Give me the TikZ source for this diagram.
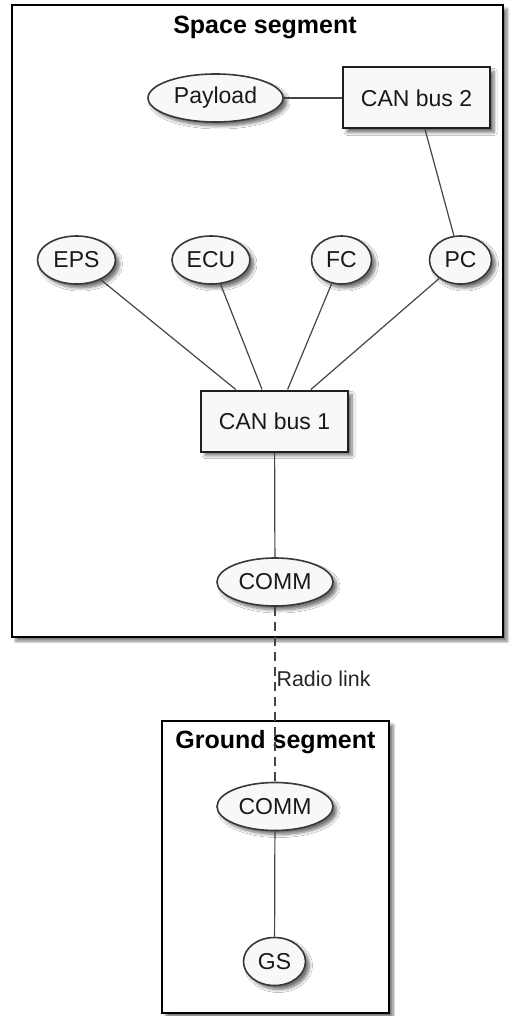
\documentclass[tikz,border=0pt]{standalone}
\usepackage{fontspec}
\setmainfont{Liberation Sans}
\usetikzlibrary{shapes.geometric,shadows.blur}
\definecolor{nodefill}{HTML}{F8F8F8}
\definecolor{nodeline}{HTML}{383838}
\definecolor{edgeline}{HTML}{454545}
\begin{document}
\begin{tikzpicture}[x=1pt,y=-1pt,
  shd/.style={blur shadow={shadow xshift=4pt,shadow yshift=-4pt,shadow opacity=55,shadow blur steps=6,shadow blur radius=3pt}},
  uc/.style={ellipse, draw=nodeline, line width=1.6pt, fill=nodefill, inner sep=0pt, minimum height=48pt, text=black!90, font=\fontsize{23}{27}\selectfont, shd},
  bx/.style={rectangle, draw=black!88, line width=2pt, fill=nodefill, inner sep=0pt, minimum width=147pt, minimum height=61pt, text=black!90, font=\fontsize{23}{27}\selectfont, shd},
  frm/.style={draw=black, line width=2pt, fill=white, shd},
  ttl/.style={font=\fontsize{25}{30}\selectfont\bfseries, inner sep=0pt},
  lnk/.style={draw=edgeline, line width=1.2pt},
  lbl/.style={font=\fontsize{21.4}{25}\selectfont, text=black!85, inner sep=1pt, anchor=west},
]
\useasboundingbox (0,0) rectangle (509,1016);
% frames
\draw[frm] (12,5) rectangle (503,637);
\draw[frm] (162,721) rectangle (389,1013);
\node[ttl] (spacettl) at (265,27) {Space segment};
\node[ttl] (groundttl) at (275.5,742) {Ground segment};
% space segment nodes
\node[uc, minimum width=135pt] (payload) at (215.5,98) {Payload};
\node[bx] (can2) at (416.5,98) {CAN bus 2};
\node[uc, minimum width=78pt] (eps) at (76.5,260) {EPS};
\node[uc, minimum width=78pt] (ecu) at (211,260) {ECU};
\node[uc, minimum width=60pt] (fc) at (341.5,260) {FC};
\node[uc, minimum width=62pt] (pc) at (460.5,260) {PC};
\node[bx] (can1) at (274.5,421) {CAN bus 1};
\node[uc, minimum width=116pt] (comm1) at (275,582) {COMM};
% ground segment nodes
\node[uc, minimum width=116pt] (comm2) at (275,806.5) {COMM};
\node[uc, minimum width=62pt] (gs) at (274.5,961.5) {GS};
% connectors
\draw[lnk] (payload) -- (can2);
\draw[lnk] (can2) -- (pc);
\draw[lnk] (eps) -- (can1);
\draw[lnk] (ecu) -- (can1);
\draw[lnk] (fc) -- (can1);
\draw[lnk] (pc) -- (can1);
\draw[lnk] (can1) -- (comm1);
\draw[lnk, dash pattern=on 9pt off 6pt] (comm1) -- node[lbl, pos=0.41] (radio) {Radio link} (comm2);
\draw[lnk] (comm2) -- (gs);
\end{tikzpicture}
\end{document}
